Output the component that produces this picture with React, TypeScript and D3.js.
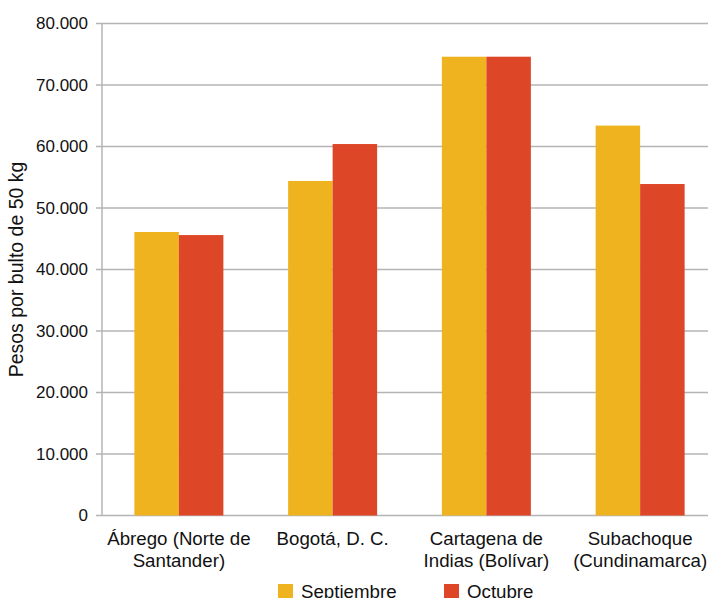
import React, { useRef, useEffect } from 'react';
import * as d3 from 'd3';

const categories = [
    ['Ábrego (Norte de', 'Santander)'],
    ['Bogotá, D. C.'],
    ['Cartagena de', 'Indias (Bolívar)'],
    ['Subachoque', '(Cundinamarca)'],
];
const seriesNames = ['Septiembre', 'Octubre'];
const septiembre = [46100, 54400, 74600, 63400];
const octubre = [45600, 60400, 74600, 53900];
const yTicks = [0, 10000, 20000, 30000, 40000, 50000, 60000, 70000, 80000];
const colors = ['#EFB320', '#DD4728'];

const width = 708;
const height = 598;
const margin = { top: 23.5, right: -9, bottom: 82.5, left: 102 };

const App: React.FC = () => {
    const ref = useRef<SVGSVGElement>(null);

    useEffect(() => {
        if (!ref.current) return;
        const svg = d3.select(ref.current);
        svg.selectAll('*').remove();

        const innerW = width - margin.left - margin.right;
        const innerH = height - margin.top - margin.bottom;
        const locale = d3.formatLocale({ decimal: ',', thousands: '.', grouping: [3], currency: ['$', ''] });
        const fmt = locale.format(',');

        const x0 = d3.scaleBand<number>()
            .domain(categories.map((_, i) => i))
            .range([0, innerW]);
        const groupW = 89;
        const x1 = d3.scaleBand<string>()
            .domain(seriesNames)
            .range([0, groupW]);
        const y = d3.scaleLinear().domain([0, 80000]).range([innerH, 0]);

        const g = svg.append('g').attr('transform', `translate(${margin.left},${margin.top})`);

        // grid
        g.append('g')
            .selectAll('line')
            .data(yTicks)
            .enter()
            .append('line')
            .attr('x1', -6)
            .attr('x2', innerW)
            .attr('y1', d => y(d))
            .attr('y2', d => y(d))
            .attr('stroke', '#b4b4b4')
            .attr('stroke-width', 1.5);

        g.append('g')
            .selectAll('text')
            .data(yTicks)
            .enter()
            .append('text')
            .attr('x', -14)
            .attr('y', d => y(d))
            .attr('dy', '0.35em')
            .attr('text-anchor', 'end')
            .attr('font-size', 17)
            .attr('fill', '#111')
            .text(d => fmt(d));

        const data = categories.map((_, i) => [septiembre[i], octubre[i]]);
        const groups = g.selectAll('.grp')
            .data(data)
            .enter()
            .append('g')
            .attr('transform', (_, i) => `translate(${x0(i)! + x0.bandwidth() / 2 - groupW / 2},0)`);
        groups.selectAll('rect')
            .data(d => d.map((v, j) => ({ v, j })))
            .enter()
            .append('rect')
            .attr('x', d => x1(seriesNames[d.j])!)
            .attr('y', d => y(d.v))
            .attr('width', x1.bandwidth())
            .attr('height', d => innerH - y(d.v))
            .attr('fill', d => colors[d.j]);

        // axis line
        g.append('line')
            .attr('x1', 0).attr('x2', 0)
            .attr('y1', 0).attr('y2', innerH)
            .attr('stroke', '#b4b4b4').attr('stroke-width', 1.5);

        // category labels
        const labels = g.selectAll('.cat')
            .data(categories)
            .enter()
            .append('text')
            .attr('text-anchor', 'middle')
            .attr('font-size', 18.7)
            .attr('fill', '#111')
            .attr('transform', (_, i) => `translate(${x0(i)! + x0.bandwidth() / 2},${innerH + 29})`);
        labels.selectAll('tspan')
            .data(d => d)
            .enter()
            .append('tspan')
            .attr('x', 0)
            .attr('y', (_, k) => k * 22)
            .text(d => d);

        // y title
        svg.append('text')
            .attr('transform', `translate(23,${margin.top + innerH / 2}) rotate(-90)`)
            .attr('text-anchor', 'middle')
            .attr('font-size', 19.5)
            .attr('fill', '#111')
            .text('Pesos por bulto de 50 kg');

        // legend
        const leg = svg.append('g').attr('transform', 'translate(278,584)');
        const items = leg.selectAll('g')
            .data(seriesNames)
            .enter()
            .append('g')
            .attr('transform', (_, i) => `translate(${i * 166},0)`);
        items.append('rect')
            .attr('width', 15)
            .attr('height', 15)
            .attr('fill', (_, i) => colors[i]);
        items.append('text')
            .attr('x', 23)
            .attr('y', 13.5)
            .attr('font-size', 18.7)
            .attr('fill', '#111')
            .text(d => d);
    }, []);

    return (
        <svg
            ref={ref}
            width={width}
            height={height}
            style={{ position: 'absolute', left: 0, top: 0, fontFamily: 'Liberation Sans, Arial, sans-serif', background: '#fff' }}
        />
    );
};

export default App;
